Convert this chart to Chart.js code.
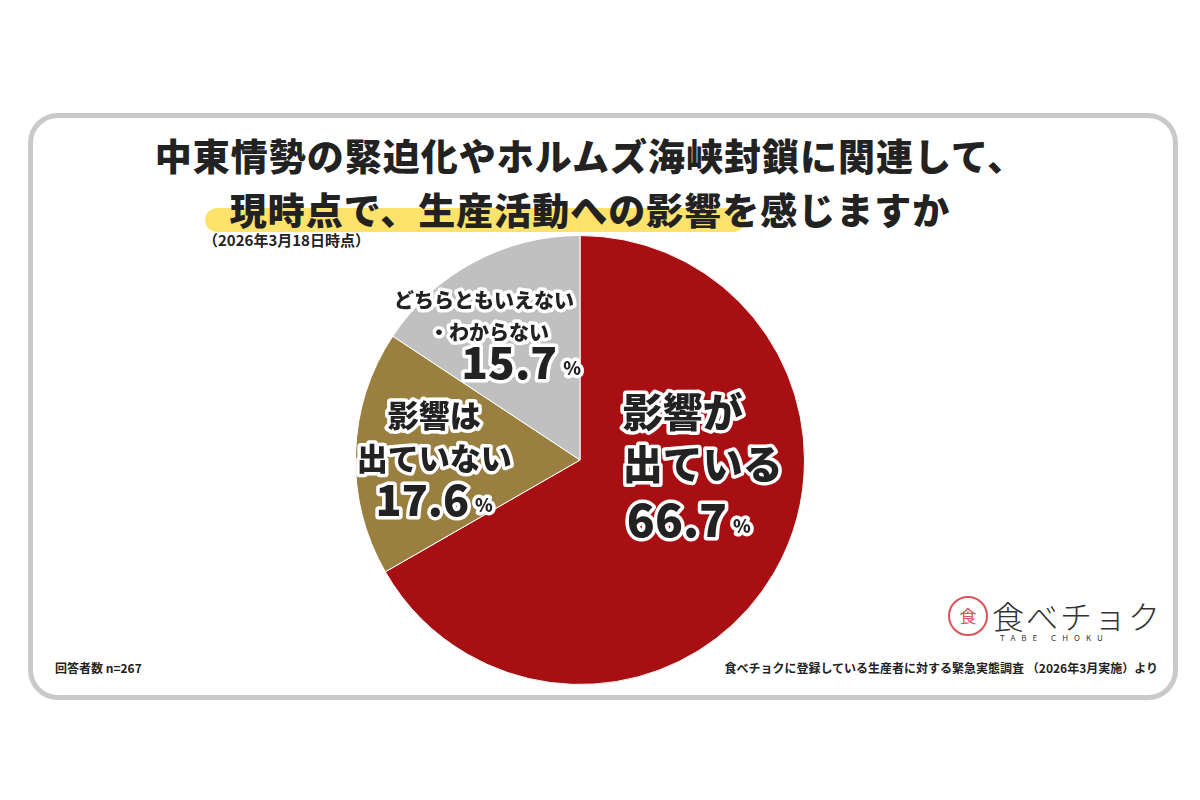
<!DOCTYPE html>
<html><head><meta charset="utf-8">
<script src="https://cdn.jsdelivr.net/npm/chart.js@4"></script>
<style>
body{margin:0;width:1200px;height:800px;background:#fff;font-family:"Noto Sans CJK JP",sans-serif;position:relative;overflow:hidden}
.box{position:absolute;left:28px;top:113px;width:1140px;height:577px;border:5px solid #c9c9c9;border-radius:30px}
.t{position:absolute;left:0;width:1180px;text-align:center;font-weight:900;font-size:37px;color:#222;letter-spacing:1px;white-space:nowrap}
.hl{position:absolute;left:205px;top:208px;width:540px;height:24px;background:#fde36b;border-radius:12px}
.sub{position:absolute;left:203px;top:229px;font-weight:700;font-size:15px;color:#222}
.fn{position:absolute;top:659px;font-weight:700;font-size:12px;color:#222}
#wrap{position:absolute;left:355px;top:235px;width:450px;height:450px}
</style></head><body>
<div class="box"></div>
<div class="hl"></div>
<div class="t" style="top:128px">中東情勢の緊迫化やホルムズ海峡封鎖に関連して、</div>
<div class="t" style="top:182px">現時点で、生産活動への影響を感じますか</div>
<div class="sub">（2026年3月18日時点）</div>
<div class="fn" style="left:55px">回答者数 n=267</div>
<div class="fn" style="right:42px">食べチョクに登録している生産者に対する緊急実態調査 （2026年3月実施）より</div>
<div style="position:absolute;left:948px;top:596px;width:36px;height:36px;border:2px solid #d9535b;border-radius:50%;color:#d9535b;font-size:17px;line-height:36px;text-align:center">食</div>
<div style="position:absolute;left:992px;top:592px;font-size:32px;font-weight:300;color:#333;letter-spacing:2px">食べチョク</div>
<div style="position:absolute;left:1000px;top:632px;font-size:8px;color:#333;letter-spacing:6px">TABE CHOKU</div>
<div id="wrap"><canvas id="c"></canvas></div>
<script>
const categories=["影響が出ている","影響は出ていない","どちらともいえない・わからない"];
const values=[66.7,17.6,15.7];
const colors=["#a80f12","#9a8040","#c0c0c0"];
const labelLines=[["影響が","出ている"],["影響は","出ていない"],["どちらともいえない","・わからない"]];
const cfg=[{ls:40,lh:52,ns:46},{ls:31,lh:43,ns:43},{ls:20,lh:32,ns:44}];
function stroke(ctx,t,x,y){ctx.lineWidth=7;ctx.strokeStyle="#fff";ctx.lineJoin="round";ctx.strokeText(t,x,y);ctx.fillStyle="#222";ctx.fillText(t,x,y);}
const lbl={id:"lbl",afterDatasetsDraw(ch){
 const ctx=ch.ctx;const meta=ch.getDatasetMeta(0);
 meta.data.forEach((a,i)=>{
  const p=a.getProps(["x","y","startAngle","endAngle","outerRadius"],true);
  const m=(p.startAngle+p.endAngle)/2;const rr=[0.55,0.65,0.62][i];
  const pos=[[26,-110],[0,-40],[-30,-37]][i];
  const cx=p.x+Math.cos(m)*p.outerRadius*rr+pos[0];
  let y=p.y+Math.sin(m)*p.outerRadius*rr+pos[1];
  const c=cfg[i];ctx.save();ctx.textBaseline="middle";
  ctx.font=`900 ${c.ls}px "Noto Sans CJK JP"`;
  if(i==0){ctx.textAlign="left";labelLines[i].forEach((l,k)=>stroke(ctx,l,cx-90,y+k*c.lh));}
  else{ctx.textAlign="center";labelLines[i].forEach((l,k)=>stroke(ctx,l,cx+(i==2&&k==1?5:0),y+k*c.lh));}
  y+=labelLines[i].length*c.lh+(i==0?4:-2);
  const num=values[i].toFixed(1);ctx.font=`900 ${c.ns}px "Noto Sans CJK JP"`;
  const w=ctx.measureText(num).width;ctx.font=`900 18px "Noto Sans CJK JP"`;const pw=ctx.measureText("%").width+6;
  let sx=i==0?cx-86:(i==2?cx-(w+pw)/2+37:cx-(w+pw)/2);
  ctx.textAlign="left";ctx.font=`900 ${c.ns}px "Noto Sans CJK JP"`;stroke(ctx,num,sx,y);
  ctx.font=`900 18px "Noto Sans CJK JP"`;stroke(ctx,"%",sx+w+6,y+6);
  ctx.restore();
 });}};
new Chart(document.getElementById("c"),{type:"pie",
 data:{labels:categories,datasets:[{data:values,backgroundColor:colors,borderColor:"#fff",borderWidth:1}]},
 options:{responsive:true,maintainAspectRatio:false,animation:false,layout:{padding:0},
  plugins:{legend:{display:false},tooltip:{enabled:false}}},
 plugins:[lbl]});
</script></body></html>
